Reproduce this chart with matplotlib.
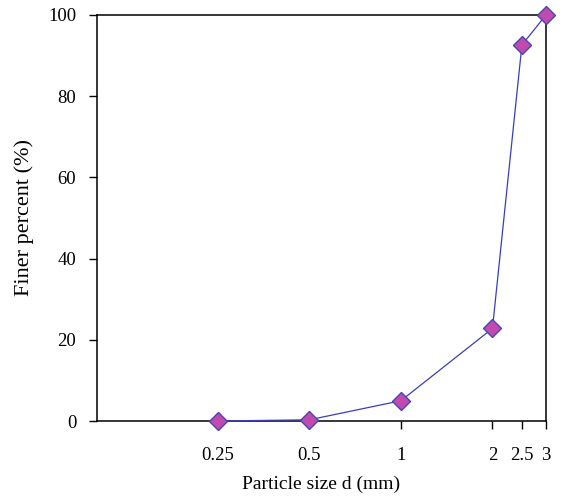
import matplotlib
matplotlib.use('Agg')
import matplotlib.pyplot as plt
from matplotlib.ticker import FixedLocator, NullLocator

size = [0.25, 0.5, 1, 2, 2.5, 3]
finer = [0.0, 0.3, 5.0, 22.8, 92.6, 100.0]
xticks = [0.25, 0.5, 1, 2, 2.5, 3]
xtick_labels = ['0.25', '0.5', '1', '2', '2.5', '3']
yticks = [0, 20, 40, 60, 80, 100]

plt.rcParams['font.family'] = 'Liberation Serif'

fig = plt.figure(figsize=(5.62, 4.98), dpi=100)
ax = fig.add_axes([0.1726, 0.1546, 0.7989, 0.8154])

ax.plot(size, finer, color='#3b3fb0', linewidth=0.9, marker='D', markersize=9,
        markerfacecolor='#c04aae', markeredgecolor='#4646b4', markeredgewidth=1.0,
        clip_on=False, zorder=3)

ax.set_xscale('log')
ax.set_xlim(0.1, 3)
ax.set_ylim(0, 100)
ax.xaxis.set_major_locator(FixedLocator(xticks))
ax.xaxis.set_minor_locator(NullLocator())
ax.set_xticklabels(xtick_labels)
ax.set_yticks(yticks)

ax.tick_params(axis='both', direction='out', length=6, width=1, labelsize=13.5)
ax.tick_params(axis='y', pad=9)
ax.tick_params(axis='x', pad=13)
for s in ax.spines.values():
    s.set_linewidth(1.1)

ax.set_xlabel('Particle size d (mm)', fontsize=14, labelpad=8)
ax.set_ylabel('Finer percent (%)', fontsize=16, labelpad=10)

fig.savefig('out.png', dpi=100)
